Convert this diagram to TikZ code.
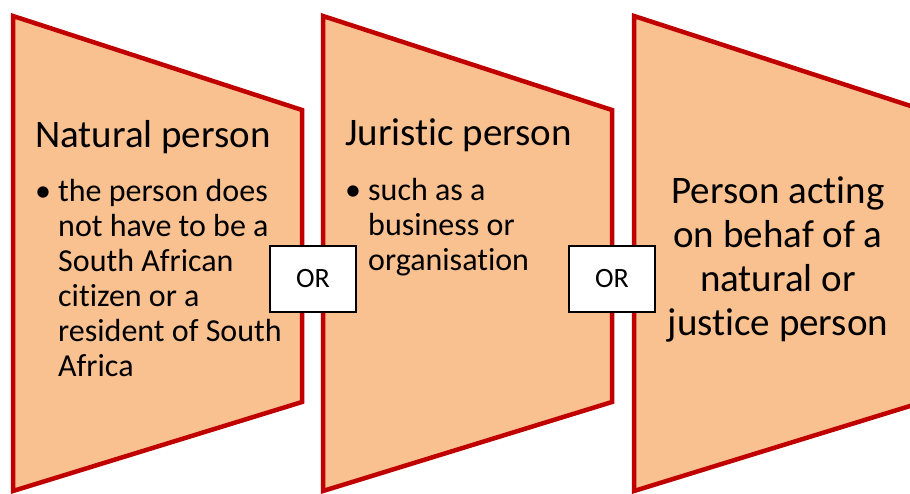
\documentclass[tikz,border=0pt]{standalone}
\usepackage{fontspec}
\setmainfont{Carlito}[Ligatures={NoCommon}]
\usetikzlibrary{positioning}
\definecolor{stageFill}{HTML}{F9C090}
\definecolor{stageRed}{HTML}{C00000}

\begin{document}
\begin{tikzpicture}[x=1pt,y=-1pt,
  stage/.style={draw=stageRed,fill=stageFill,line width=4.5pt,line join=miter},
  title/.style={anchor=base west,inner sep=0pt,font=\fontsize{39}{44}\selectfont},
  item/.style={anchor=base west,inner sep=0pt,align=left,font=\fontsize{32}{35}\selectfont},
  orbox/.style={draw=black,fill=white,line width=1.2pt,minimum width=86pt,minimum height=66pt,font=\fontsize{28}{30}\selectfont}]

\useasboundingbox (0,0) rectangle (910,493);
\clip (0,0) rectangle (910,493);

\foreach \x in {13,323,634}
  \draw[stage] (\x,16) -- ++(289,94) -- ++(0,292) -- ++(-289,89) -- cycle;

% multi-line nodes sit on the baseline of their last line
\node[title] (natural) at (35,147) {Natural person};
\node[item] (naturaldot) at (35,201) {\textbullet};
\node[item] (naturaltext) at (58,376) {the person does\\not have to be a\\South African\\citizen or a\\resident of South\\Africa};

\node[title] (juristic) at (345,145) {Juristic person};
\node[item] (juristicdot) at (345,200) {\textbullet};
\node[item] (juristictext) at (368,270) {such as a\\business or\\organisation};

\node[anchor=base,align=center,inner sep=0pt,font=\fontsize{39}{44}\selectfont] (acting) at (778,335) {Person acting\\on behaf of a\\natural or\\justice person};

\node[orbox] (or1) at (313,279) {OR};
\node[orbox] (or2) at (612,279) {OR};
\end{tikzpicture}
\end{document}
